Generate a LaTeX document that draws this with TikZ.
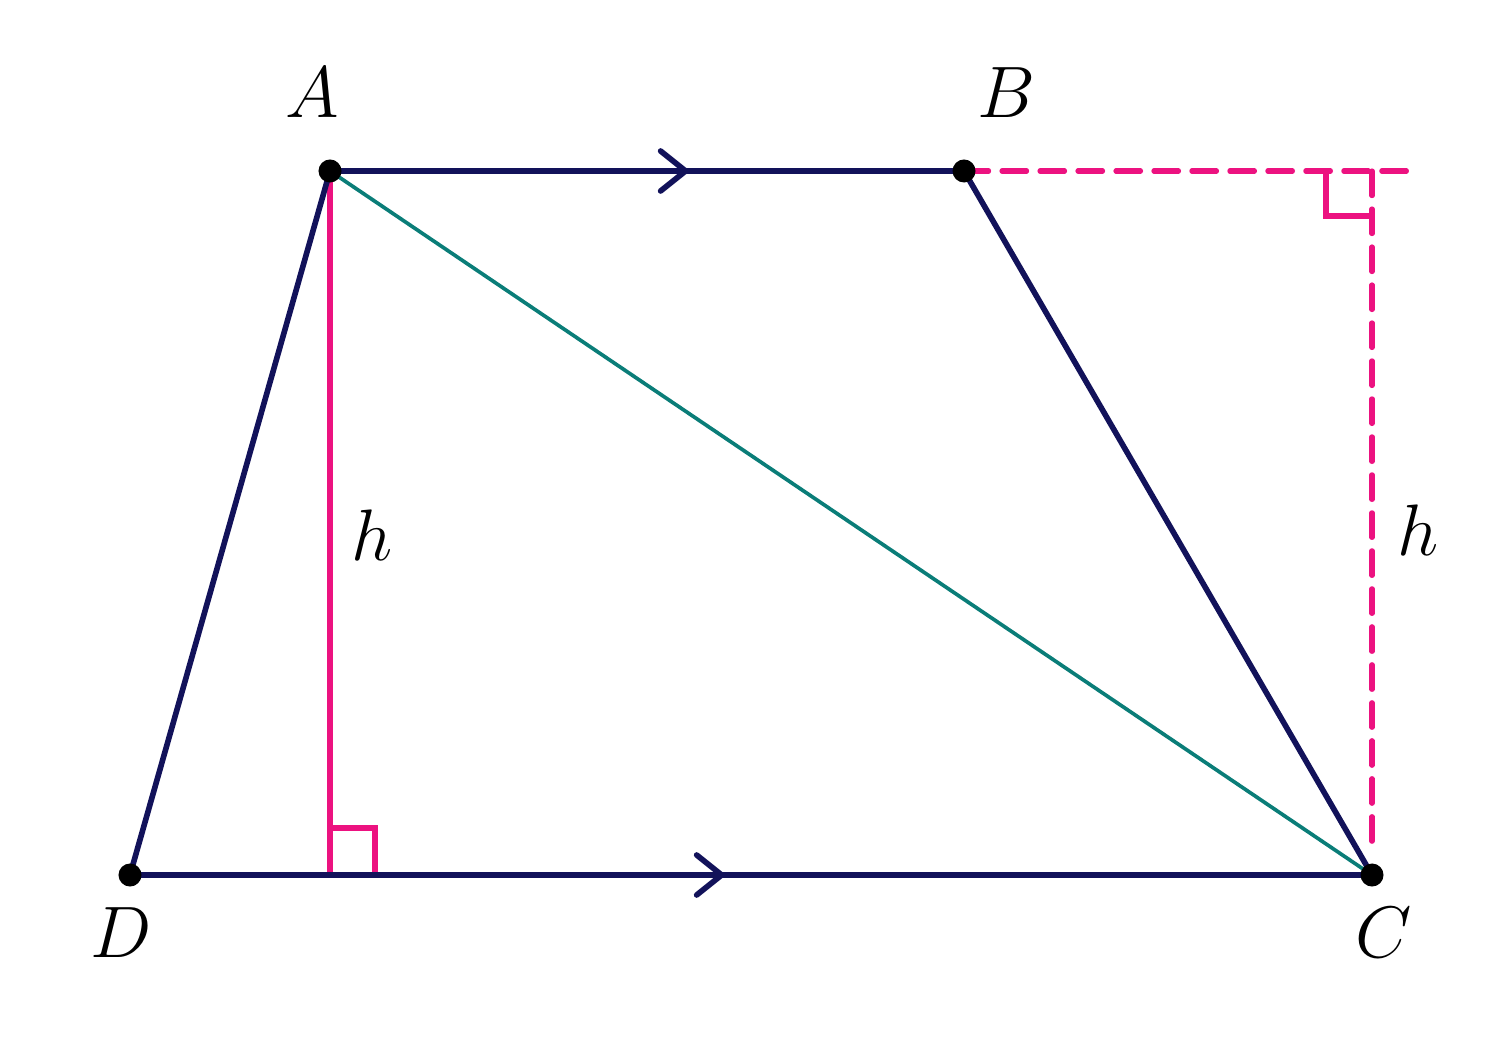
\documentclass[tikz,border=0pt]{standalone}
\usetikzlibrary{arrows.meta,decorations.markings}
\definecolor{navy}{HTML}{12125A}
\definecolor{tealc}{HTML}{0A7D78}
\definecolor{magc}{HTML}{EC1280}
\tikzset{
  px/.style={x=0.01cm,y=-0.01cm},
  side/.style={draw=navy,line width=1.6pt},
  diag/.style={draw=tealc,line width=1.05pt},
  alt/.style={draw=magc,line width=1.45pt},
  altdash/.style={draw=magc,line width=1.45pt,dash pattern=on 7pt off 3.8pt,line cap=round},
  vdot/.style={circle,fill=black,inner sep=0pt,minimum size=0.23cm},
  lbl/.style={font=\fontsize{20}{24}\selectfont},
  midarrow/.style={postaction={decorate},decoration={markings,
     mark=at position #1 with {\arrow{Straight Barb[length=0.25cm,width=0.4cm,line width=1.6pt,line cap=round]}}}}
}
\begin{document}
\begin{tikzpicture}[px]
\useasboundingbox (0,0) rectangle (1491,1055);
\coordinate (A) at (330,171);
\coordinate (B) at (964,171);
\coordinate (C) at (1372,875);
\coordinate (D) at (130,875);
\coordinate (H) at (330,875);
\coordinate (E) at (1412,171);
\coordinate (F) at (1372,171);
\coordinate (G) at (1372,852);
% heights
\draw[alt] (A) -- (H);
\draw[alt] (330,828) -- (375,828) -- (375,875);
\draw[altdash] (B) -- (E);
\draw[altdash] (F) -- (G);
\draw[alt] (1326,171) -- (1326,216) -- (1372,216);
% sides
\draw[side,midarrow=0.568] (A) -- (B);
\draw[side] (B) -- (C);
\draw[side,midarrow=0.48] (D) -- (C);
\draw[side] (D) -- (A);
\draw[diag] (A) -- (C);
% dots
\node[vdot] (dA) at (A) {};
\node[vdot] (dB) at (B) {};
\node[vdot] (dC) at (C) {};
\node[vdot] (dD) at (D) {};
% labels
\node[lbl] (lA) at (312,93) {$A$};
\node[lbl] (lB) at (1006,93) {$B$};
\node[lbl] (lC) at (1384,933) {$C$};
\node[lbl] (lD) at (121,933) {$D$};
\node[lbl] (h1) at (372,535) {$h$};
\node[lbl] (h2) at (1418,530) {$h$};
\end{tikzpicture}
\end{document}
